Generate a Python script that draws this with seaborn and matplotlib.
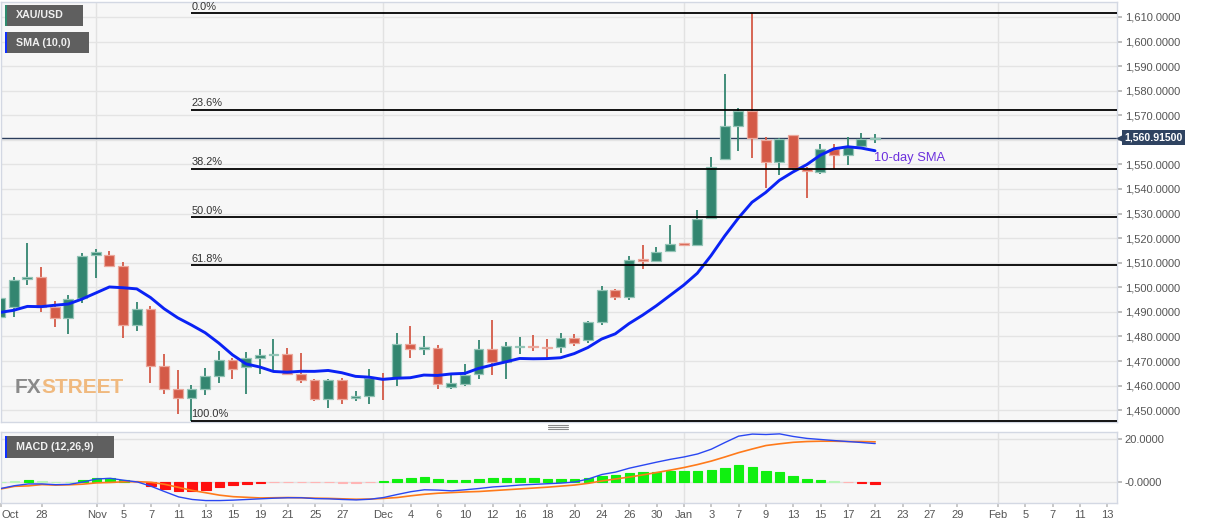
import numpy as np
import pandas as pd
import matplotlib
matplotlib.use("Agg")
import matplotlib.pyplot as plt
import matplotlib.transforms as mtransforms
from matplotlib.patches import Rectangle
from matplotlib.lines import Line2D
import seaborn as sns

# daily XAU/USD candles, 23 Oct 2019 .. 21 Jan 2020
prior_closes = [1494.3, 1488.5, 1493.1, 1481.9, 1490.2, 1492.6, 1489.8, 1484.0, 1487.9]

opens = [1487.9, 1492.0, 1503.5, 1504.0, 1492.0, 1487.7, 1495.7, 1513.0, 1513.1, 1508.6,
         1484.6, 1491.1, 1467.9, 1458.5, 1455.0, 1458.5, 1463.8, 1470.6, 1467.5, 1471.4,
         1472.4, 1472.8, 1464.6, 1462.2, 1454.7, 1462.2, 1454.9, 1455.9, 1463.3, 1463.3,
         1476.9, 1475.0, 1475.5, 1459.5, 1460.6, 1464.6, 1474.7, 1469.7, 1475.8, 1476.3,
         1475.8, 1475.8, 1479.2, 1478.5, 1485.7, 1498.9, 1495.9, 1511.5, 1510.8, 1514.7,
         1517.9, 1517.2, 1528.2, 1552.1, 1565.7, 1571.8, 1559.9, 1551.0, 1561.8, 1548.6,
         1547.0, 1556.3, 1553.7, 1557.6, 1560.5]
highs = [1497.5, 1504.0, 1517.9, 1508.1, 1494.5, 1496.8, 1514.0, 1515.4, 1514.6, 1510.4,
         1494.1, 1492.3, 1472.8, 1466.3, 1460.2, 1467.0, 1474.1, 1471.4, 1473.7, 1475.1,
         1478.9, 1475.5, 1473.1, 1462.5, 1462.5, 1463.3, 1457.8, 1466.6, 1465.2, 1481.5,
         1484.2, 1480.2, 1476.6, 1465.2, 1469.0, 1478.5, 1486.5, 1477.8, 1479.6, 1480.4,
         1479.0, 1481.6, 1480.8, 1486.4, 1500.5, 1499.2, 1512.7, 1517.4, 1516.2, 1525.3,
         1518.2, 1531.4, 1553.1, 1586.7, 1573.1, 1611.4, 1561.3, 1560.7, 1562.0, 1548.8,
         1558.2, 1558.2, 1561.0, 1562.6, 1562.2]
lows = [1486.0, 1488.0, 1500.9, 1490.0, 1483.7, 1480.9, 1493.7, 1503.6, 1508.3, 1479.2,
        1482.3, 1460.9, 1456.5, 1448.4, 1445.6, 1456.1, 1460.9, 1462.5, 1456.5, 1464.9,
        1466.3, 1464.6, 1461.1, 1453.8, 1450.7, 1452.7, 1453.8, 1452.7, 1454.1, 1459.8,
        1471.4, 1472.6, 1458.8, 1458.8, 1459.8, 1462.5, 1464.2, 1462.5, 1472.8, 1474.1,
        1470.7, 1473.1, 1476.0, 1477.5, 1484.5, 1495.0, 1495.0, 1507.3, 1510.5, 1514.5,
        1517.1, 1517.0, 1527.9, 1551.9, 1555.6, 1552.5, 1540.3, 1545.5, 1547.7, 1536.4,
        1546.0, 1548.2, 1549.6, 1557.2, 1558.6]
closes = [1495.6, 1502.9, 1504.3, 1492.0, 1487.7, 1495.3, 1512.8, 1514.3, 1508.6, 1484.7,
          1491.0, 1467.9, 1458.5, 1455.0, 1458.5, 1464.0, 1470.6, 1466.6, 1471.4, 1472.3,
          1472.8, 1464.9, 1462.2, 1454.7, 1462.2, 1454.7, 1455.9, 1463.3, 1462.5, 1477.0,
          1474.7, 1475.8, 1460.6, 1460.9, 1464.5, 1474.8, 1469.7, 1476.2, 1476.3, 1475.8,
          1475.4, 1479.2, 1477.5, 1485.7, 1498.9, 1496.0, 1511.1, 1510.8, 1514.4, 1517.7,
          1517.3, 1527.9, 1548.8, 1565.6, 1571.8, 1560.6, 1550.8, 1560.2, 1548.6, 1547.3,
          1556.1, 1553.8, 1557.0, 1560.3, 1560.915]

# MACD (12,26,9) lines
macd_line = [-3.0, -1.7, -0.9, -0.9, -1.25, -1.1, 0.0, 1.4, 1.7, 0.8,
             0.0, -2.0, -4.5, -6.9, -8.1, -8.6, -8.6, -8.4, -8.1, -7.8,
             -7.5, -7.3, -7.3, -7.7, -7.8, -8.1, -8.3, -8.0, -7.2, -5.8,
             -4.5, -3.6, -3.75, -4.1, -3.6, -3.0, -2.3, -1.9, -1.4, -1.1,
             -0.8, -0.5, 0.0, 1.4, 3.5, 4.6, 6.4, 7.8, 9.2, 10.5,
             11.6, 13.0, 15.2, 18.3, 21.25, 22.2, 22.0, 22.3, 21.1, 20.2,
             19.7, 19.2, 18.75, 18.3, 17.8]
signal_line = [-3.2, -2.0, -1.8, -1.2, -1.45, -1.3, -1.0, -0.4, -0.2, 0.1,
               0.15, -0.15, -1.1, -2.5, -3.9, -5.0, -6.1, -6.8, -7.1, -7.4,
               -7.3, -7.2, -7.3, -7.5, -7.6, -7.8, -8.0, -7.9, -7.6, -7.2,
               -6.4, -5.7, -5.2, -4.9, -4.6, -4.4, -4.0, -3.6, -3.2, -2.8,
               -2.4, -1.9, -1.4, -0.6, 0.5, 1.4, 2.3, 3.3, 4.4, 5.5,
               6.7, 8.1, 9.7, 11.6, 13.6, 15.3, 16.9, 17.7, 18.4, 18.75,
               18.9, 18.9, 18.75, 18.75, 18.6]

tick_dates = ["2019-10-23", "2019-10-28", "2019-11-01", "2019-11-05", "2019-11-07",
              "2019-11-11", "2019-11-13", "2019-11-15", "2019-11-19", "2019-11-21",
              "2019-11-25", "2019-11-27", "2019-12-02", "2019-12-04", "2019-12-06",
              "2019-12-10", "2019-12-12", "2019-12-16", "2019-12-18", "2019-12-20",
              "2019-12-24", "2019-12-26", "2019-12-30", "2020-01-01", "2020-01-03",
              "2020-01-07", "2020-01-09", "2020-01-13", "2020-01-15", "2020-01-17",
              "2020-01-21", "2020-01-23", "2020-01-27", "2020-01-29", "2020-02-03",
              "2020-02-05", "2020-02-07", "2020-02-11", "2020-02-13"]
tick_labels = ["Oct", "28", "Nov", "5", "7", "11", "13", "15", "19", "21", "25", "27",
               "Dec", "4", "6", "10", "12", "16", "18", "20", "24", "26", "30",
               "Jan", "3", "7", "9", "13", "15", "17", "21", "23", "27", "29",
               "Feb", "5", "7", "11", "13"]

fib_ratios = [0.0, 0.236, 0.382, 0.5, 0.618, 1.0]
fib_labels = ["0.0%", "23.6%", "38.2%", "50.0%", "61.8%", "100.0%"]

# ---- frame ----
days = pd.bdate_range("2019-10-23", "2020-02-13")
n = len(closes)
df = pd.DataFrame({"x": np.arange(n), "open": opens, "high": highs,
                   "low": lows, "close": closes,
                   "macd": macd_line, "signal": signal_line})
hist_close = pd.Series(prior_closes + closes)
df["sma"] = hist_close.rolling(10).mean().iloc[len(prior_closes):].values
df["hist"] = df["macd"] - df["signal"]
tick_pos = [days.get_loc(pd.Timestamp(d)) for d in tick_dates]

sns.set_theme(style="white")
plt.rcParams["font.family"] = ["Liberation Sans", "DejaVu Sans"]

W, H = 1207, 526
fig = plt.figure(figsize=(W / 100, H / 100), dpi=100)
fig.patch.set_facecolor("white")
ax = fig.add_axes([1 / W, 1 - 422 / H, 1116 / W, 420.3 / H])
ax2 = fig.add_axes([1 / W, 1 - 502.5 / H, 1116 / W, 71 / H])

xlim = (0.07, 81.7)
frame_col = "#d3d8e3"
for a in (ax, ax2):
    a.set_facecolor("#f7f7f7")
    a.set_xlim(*xlim)
    for s in a.spines.values():
        s.set_color(frame_col)
        s.set_linewidth(1)
    for p, lab in zip(tick_pos, tick_labels):
        if lab.isalpha() and p > 0:
            a.axvline(p, color="#e2e2e2", lw=1, zorder=0)

last = df["close"].iloc[-1]

# ---- price panel ----
ax.set_ylim(1445.2, 1616.2)
yt = np.arange(1450, 1611, 10)
ax.set_yticks(yt)
# the level under the last-price tag is hidden by the tag itself
ax.set_yticklabels(["" if abs(v - last) < 4 else f"{v:,.4f}" for v in yt])
ax.yaxis.tick_right()
ax.tick_params(axis="y", length=3.6, color="#b5b5b5", pad=2, labelsize=8,
               labelcolor="#555555", right=True)
ax.set_xticks([])
for v in yt:
    ax.axhline(v, color="#e4e4e4", lw=1, zorder=0)

up_col, dn_col = "#338670", "#d45a47"
up_edge, dn_edge = "#93c4b6", "#eba89c"
rising = df["close"] >= df["open"]
cols = np.where(rising, up_col, dn_col)
edges = np.where(rising, up_edge, dn_edge)
ax.vlines(df["x"], df["low"], df["high"], colors=cols, lw=1.3, zorder=3)
ax.bar(df["x"], (df["close"] - df["open"]).abs(),
       bottom=df[["open", "close"]].min(axis=1), width=0.72,
       color=cols, edgecolor=edges, linewidth=0.9, zorder=3)

sns.lineplot(x=df["x"], y=df["sma"], ax=ax, color="#0a22f5", linewidth=2.1,
             zorder=4, legend=False)
ax.set_xlabel("")
ax.set_ylabel("")

# fibonacci retracement from the swing low to the swing high
hi, lo = df["high"].max(), df["low"].min()
x0 = df["x"][df["low"].idxmin()] - 0.05
for r, lab in zip(fib_ratios, fib_labels):
    lvl = hi - r * (hi - lo)
    ax.hlines(lvl, x0, xlim[1], color="black", lw=1.3, zorder=5)
    ax.text(x0 + 0.05, lvl + 0.7, lab, fontsize=7.9, color="#333333",
            ha="left", va="bottom", zorder=5)

ax.axhline(last, color="#2b3d5c", lw=1.0, zorder=2)
ax.text(df["x"].iloc[-1] - 0.1, 1552.6, "10-day SMA", color="#6c30dd",
        fontsize=9.3, ha="left", va="center", zorder=6)

blend = mtransforms.blended_transform_factory(ax.transAxes, ax.transData)
ax.text(1 + 7 / 1116, last, f"{last:,.5f}", transform=blend, ha="left",
        va="center", fontsize=7.6, fontweight="bold", color="white",
        clip_on=False, zorder=10,
        bbox=dict(boxstyle="square,pad=0.22", fc="#2f4361", ec="none"))
ax.plot([1 + 2.5 / 1116], [last], marker="<", ms=4.5, color="#2f4361",
        transform=blend, clip_on=False, zorder=10)

# watermark
fx = ax.text(14 / 1116, 1 - (392.7 - 1.7) / 420.3, "FX", transform=ax.transAxes,
             fontsize=15, fontweight="bold", color="#8a8a8a", ha="left",
             va="baseline", zorder=1)
ax.annotate("STREET", xy=(1, 0), xycoords=fx, fontsize=15, fontweight="bold",
            color="#f0b97e", ha="left", va="bottom", zorder=1)

# ---- MACD panel ----
ax2.set_ylim(-9.5, 23.4)
ax2.set_yticks([0, 20])
ax2.set_yticklabels(["-0.0000", "20.0000"])
ax2.yaxis.tick_right()
ax2.tick_params(axis="y", length=3.6, color="#b5b5b5", pad=2, labelsize=8,
                labelcolor="#555555", right=True)
for v in (0, 20):
    ax2.axhline(v, color="#e2e2e2", lw=1, zorder=0)

h = df["hist"]
bar_cols = [("#b9f5b9" if v > 0 else "#ffb5b5") if abs(v) < 0.35
            else ("#10f010" if v > 0 else "#ff1010") for v in h]
ax2.bar(df["x"], h, width=0.7, color=bar_cols, edgecolor=bar_cols,
        linewidth=0.8, zorder=2)
sns.lineplot(x=df["x"], y=df["signal"], ax=ax2, color="#ff7a1a", linewidth=1.2,
             zorder=3, legend=False)
sns.lineplot(x=df["x"], y=df["macd"], ax=ax2, color="#2a47f2", linewidth=1.0,
             zorder=4, legend=False)
ax2.set_xlabel("")
ax2.set_ylabel("")

ax2.set_xticks(tick_pos)
ax2.set_xticklabels(tick_labels)
ax2.tick_params(axis="x", length=3, color="#c0c0c0", pad=2.5, labelsize=8,
                labelcolor="#555555", bottom=True)
ax2.get_xticklabels()[0].set_ha("left")

# ---- legend boxes and panel handle ----
def tag(x0p, y0p, x1p, y1p, stripe, text):
    fig.add_artist(Rectangle((x0p / W, 1 - y1p / H), (x1p - x0p) / W, (y1p - y0p) / H,
                             transform=fig.transFigure, fc="#5f5f5f", ec="none"))
    fig.add_artist(Rectangle((x0p / W, 1 - y1p / H), 2 / W, (y1p - y0p) / H,
                             transform=fig.transFigure, fc=stripe, ec="none"))
    fig.text((x0p + 11) / W, 1 - (y0p + y1p) / 2 / H, text, color="#f0f0f0",
             fontsize=7.7, fontweight="bold", ha="left", va="center")

tag(5, 5, 83, 26, "#2e8b6e", "XAU/USD")
tag(5, 32, 89, 53, "#1030ff", "SMA (10,0)")
tag(5, 436, 114, 458, "#1030ff", "MACD (12,26,9)")

for yy in (425.3, 427.3, 429.3):
    fig.add_artist(Line2D([548 / W, 568 / W], [1 - yy / H] * 2,
                          transform=fig.transFigure, color="#8a8a8a", lw=0.8))

fig.savefig("out.png", dpi=100)
